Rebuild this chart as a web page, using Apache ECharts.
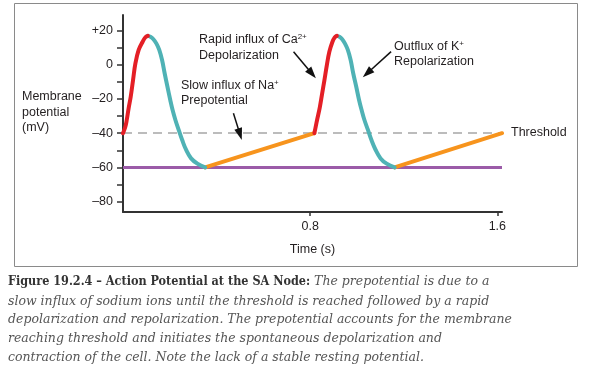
<!DOCTYPE html>
<html>
<head>
<meta charset="utf-8">
<script src="https://cdn.jsdelivr.net/npm/echarts@6/dist/echarts.min.js"></script>
<style>
  html, body { margin: 0; padding: 0; background: #ffffff; }
  #chart { width: 596px; height: 372px; }
</style>
</head>
<body>
<div id="chart"></div>
<script>
// ---- Data (time in s, membrane potential in mV) ----
const redRise1 = [[0, -40], [0.010, -36.2], [0.016, -32.3], [0.024, -25.5], [0.033, -18.7], [0.043, -8.9], [0.053, 0.8], [0.067, 8.6], [0.084, 13.4], [0.096, 16.0], [0.106, 16.8]];
const tealFall1 = [[0.106, 16.8], [0.117, 16.3], [0.129, 15.0], [0.143, 12.3], [0.155, 8.6], [0.167, 2.7], [0.178, -5], [0.190, -12.9], [0.202, -20.6], [0.212, -26.5], [0.224, -32.3], [0.238, -38.1], [0.253, -44], [0.270, -49.8], [0.291, -54.7], [0.318, -57.8], [0.351, -60]];
const orangePre1 = [[0.351, -60], [0.818, -40]];
const redRise2 = [[0.818, -40], [0.824, -36], [0.830, -32], [0.841, -25], [0.851, -17], [0.861, -9], [0.871, -0.5], [0.882, 7.5], [0.895, 13.2], [0.905, 15.9], [0.914, 16.8]];
const tealFall2 = [[0.914, 16.8], [0.925, 16.3], [0.936, 15.0], [0.949, 12.3], [0.961, 8.6], [0.973, 2.7], [0.984, -5], [0.997, -12.9], [1.009, -20.6], [1.020, -26.5], [1.032, -32.3], [1.047, -38.1], [1.062, -44], [1.080, -49.8], [1.101, -54.7], [1.127, -57.8], [1.161, -60]];
const orangePre2 = [[1.161, -60], [1.62, -40]];

const thresholdLevel = -40;
const restLevel = -60;

const yLabelValues = [-80, -60, -40, -20, 0, 20];
const yTickValues = [-80, -70, -60, -50, -40, -30, -20, -10, 0, 10, 20];
const xLabelValues = [0.8, 1.6];

// annotation arrows: [start, end] in data coords
const arrowNa = [[0.472, -28.4], [0.500, -40.6]];
const arrowCa = [[0.729, 7.6], [0.808, -5.3]];
const arrowK = [[1.146, 7.6], [1.044, -5.0]];

const captionLines = [
  'slow influx of sodium ions until the threshold is reached followed by a rapid',
  'depolarization and repolarization. The prepotential accounts for the membrane',
  'reaching threshold and initiates the spontaneous depolarization and',
  'contraction of the cell. Note the lack of a stable resting potential.'
];

// ---- Styles ----
const SANS = '"Liberation Sans", Arial, sans-serif';
const SERIF = '"DejaVu Serif", serif';
const SERIF_B = '"DejaVu Serif Condensed", "DejaVu Serif", serif';
const TXT = '#231f20';
const C_RED = '#e41f26';
const C_TEAL = '#4fb2b5';
const C_ORANGE = '#f7941d';
const C_PURPLE = '#9b5ba8';

const chart = echarts.init(document.getElementById('chart'), null, { renderer: 'canvas' });

function curve(data, color) {
  return {
    type: 'line', data: data, smooth: 0.4, showSymbol: false, silent: true,
    lineStyle: { color: color, width: 4, cap: 'round' }, z: 5
  };
}

const annoFont = { fontSize: 12.5, fontFamily: SANS, fill: TXT };
const supRich = {
  n: { fontSize: 12.5, fontFamily: SANS, fill: TXT, lineHeight: 15 },
  s: { fontSize: 8, fontFamily: SANS, fill: TXT, verticalAlign: 'top', lineHeight: 15 }
};
function annoText(x, y, text, extra) {
  return {
    type: 'text', x: x, y: y, silent: true,
    style: Object.assign({ text: text, verticalAlign: 'middle', align: 'left' }, annoFont, extra || {})
  };
}

const captionGraphics = [{
  type: 'text', x: 8, y: 282, silent: true,
  style: {
    text: '{b|Figure 19.2.4 – Action Potential at the SA Node:}{i| The prepotential is due to a}',
    verticalAlign: 'middle',
    rich: {
      b: { fontFamily: SERIF_B, fontSize: 12.5, fontWeight: 'bold', fill: '#333333' },
      i: { fontFamily: SERIF, fontSize: 12.5, fontStyle: 'italic', fill: '#555555' }
    }
  }
}];
captionLines.forEach(function (ln, i) {
  captionGraphics.push({
    type: 'text', x: 8, y: 301.5 + i * 18.7, silent: true,
    style: { text: ln, fontFamily: SERIF, fontSize: 12.5, fontStyle: 'italic', fill: '#555555', verticalAlign: 'middle' }
  });
});

const option = {
  animation: false,
  backgroundColor: '#ffffff',
  grid: { left: 123, right: 94, top: 15, bottom: 160, containLabel: false },
  xAxis: {
    type: 'value', min: 0, max: 1.62,
    name: 'Time (s)', nameLocation: 'middle', nameGap: 31,
    nameTextStyle: { fontSize: 12.5, fontFamily: SANS, color: TXT },
    axisLine: { show: true, onZero: false, lineStyle: { color: '#333333', width: 2 } },
    axisTick: { show: true, customValues: xLabelValues, length: 4, lineStyle: { color: '#333333', width: 1.5 } },
    axisLabel: { customValues: xLabelValues, margin: 8, fontSize: 12.5, fontFamily: SANS, color: TXT,
      formatter: function (v) { return v.toFixed(1); } },
    splitLine: { show: false }
  },
  yAxis: {
    type: 'value', min: -86, max: 29,
    axisLine: { show: true, onZero: false, lineStyle: { color: '#333333', width: 2 } },
    axisTick: { show: true, customValues: yTickValues, length: 6, lineStyle: { color: '#333333', width: 1.5 } },
    axisLabel: { customValues: yLabelValues, margin: 10, fontSize: 12.5, fontFamily: SANS, color: TXT,
      formatter: function (v) { return v > 0 ? '+' + v : (v < 0 ? '\u2013' + (-v) : '0'); } },
    splitLine: { show: false }
  },
  series: [
    {
      type: 'line', data: [], silent: true, z: 2,
      markLine: {
        silent: true, symbol: ['none', 'none'], animation: false,
        label: { show: false },
        data: [
          { yAxis: thresholdLevel, lineStyle: { color: '#a7a7a7', width: 1.5, type: [9, 6] } },
          { yAxis: restLevel, lineStyle: { color: C_PURPLE, width: 3, type: 'solid' } }
        ]
      }
    },
    curve(orangePre1, C_ORANGE),
    curve(orangePre2, C_ORANGE),
    curve(tealFall1, C_TEAL),
    curve(tealFall2, C_TEAL),
    curve(redRise1, C_RED),
    curve(redRise2, C_RED),
    {
      type: 'line', data: [], silent: true, z: 6,
      markLine: {
        silent: true, symbol: ['none', 'triangle'], symbolSize: [8, 12], animation: false,
        label: { show: false },
        itemStyle: { color: '#111111' },
        lineStyle: { color: '#111111', width: 1.5, type: 'solid' },
        data: [
          [{ coord: arrowNa[0] }, { coord: arrowNa[1] }],
          [{ coord: arrowCa[0] }, { coord: arrowCa[1] }],
          [{ coord: arrowK[0] }, { coord: arrowK[1] }]
        ]
      }
    }
  ],
  graphic: [
    { type: 'rect', silent: true, shape: { x: 14.5, y: 3.5, width: 563, height: 263 },
      style: { fill: 'none', stroke: '#8a8a8a', lineWidth: 1 } },
    { type: 'text', x: 22, y: 89, silent: true,
      style: Object.assign({ text: 'Membrane\npotential\n(mV)', lineHeight: 15.5, verticalAlign: 'top', align: 'left' }, annoFont) },
    annoText(199, 40, '{n|Rapid influx of Ca}{s|2+}', { rich: supRich }),
    annoText(199, 56, 'Depolarization'),
    annoText(181, 86, '{n|Slow influx of Na}{s|+}', { rich: supRich }),
    annoText(181, 101, 'Prepotential'),
    annoText(394, 47, '{n|Outflux of K}{s|+}', { rich: supRich }),
    annoText(394, 62, 'Repolarization'),
    annoText(511, 133, 'Threshold')
  ].concat(captionGraphics)
};

chart.setOption(option);
</script>
</body>
</html>
